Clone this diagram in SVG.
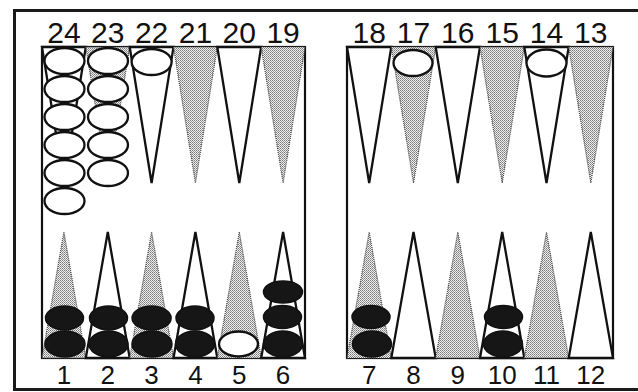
<svg xmlns="http://www.w3.org/2000/svg" width="638" height="392" viewBox="0 0 638 392">
<defs>
<pattern id="dots" width="2" height="2" patternUnits="userSpaceOnUse">
<rect width="2" height="2" fill="#eeeeee"/>
<rect x="0" y="0" width="1" height="1" fill="#7a7a7a"/>
<rect x="1" y="1" width="1" height="1" fill="#9a9a9a"/>
</pattern>
</defs>
<style>
.frame{fill:none;stroke:#1a1a1a;stroke-width:3}
.board{fill:#fff;stroke:#111;stroke-width:2.2}
.w{fill:#fff;stroke:#111;stroke-width:2.3;stroke-linejoin:miter}
.s{fill:url(#dots);stroke:#444;stroke-width:1.2;stroke-dasharray:1 1}
.wc{fill:#fff;stroke:#111;stroke-width:2.3}
.bc{fill:#161616;stroke:#111;stroke-width:1.5}
.lt{font-family:"Liberation Sans",Arial,sans-serif;font-size:30px;fill:#111;text-anchor:middle}
.lb{font-family:"Liberation Sans",Arial,sans-serif;font-size:26px;fill:#111;text-anchor:middle}
</style>
<rect width="638" height="392" fill="#fff"/>
<g id="frame">
<path class="frame" d="M640 10.5 H14.5 V389.5 H640"/>
</g>
<g id="boards">
<rect id="left-board" class="board" x="42" y="47" width="263" height="311"/>
<rect id="right-board" class="board" x="347" y="47" width="266" height="311"/>
</g>
<g id="labels">
<text class="lt" x="63.9" y="43">24</text>
<text class="lt" x="107.8" y="43">23</text>
<text class="lt" x="151.6" y="43">22</text>
<text class="lt" x="195.4" y="43">21</text>
<text class="lt" x="239.3" y="43">20</text>
<text class="lt" x="283.1" y="43">19</text>
<text class="lt" x="369.2" y="43">18</text>
<text class="lt" x="413.5" y="43">17</text>
<text class="lt" x="457.8" y="43">16</text>
<text class="lt" x="502.2" y="43">15</text>
<text class="lt" x="546.5" y="43">14</text>
<text class="lt" x="590.8" y="43">13</text>
<text class="lb" x="63.9" y="384">1</text>
<text class="lb" x="107.8" y="384">2</text>
<text class="lb" x="151.6" y="384">3</text>
<text class="lb" x="195.4" y="384">4</text>
<text class="lb" x="239.3" y="384">5</text>
<text class="lb" x="283.1" y="384">6</text>
<text class="lb" x="369.2" y="384">7</text>
<text class="lb" x="413.5" y="384">8</text>
<text class="lb" x="457.8" y="384">9</text>
<text class="lb" x="502.2" y="384">10</text>
<text class="lb" x="546.5" y="384">11</text>
<text class="lb" x="590.8" y="384">12</text>
</g>
<g id="point-24"><polygon class="w" points="42,47 85.8,47 63.9,183"/>
<ellipse class="wc" cx="64.5" cy="61" rx="20" ry="13"/><ellipse class="wc" cx="64.5" cy="89" rx="20" ry="13"/><ellipse class="wc" cx="64.5" cy="117" rx="20" ry="13"/><ellipse class="wc" cx="64.5" cy="145" rx="20" ry="13"/><ellipse class="wc" cx="64.5" cy="173" rx="20" ry="13"/><ellipse class="wc" cx="64.5" cy="201" rx="20" ry="13"/></g>
<g id="point-23"><polygon class="s" points="85.8,47 129.7,47 107.8,183"/>
<ellipse class="wc" cx="108" cy="61" rx="20" ry="13"/><ellipse class="wc" cx="108" cy="89" rx="20" ry="13"/><ellipse class="wc" cx="108" cy="117" rx="20" ry="13"/><ellipse class="wc" cx="108" cy="145" rx="20" ry="13"/><ellipse class="wc" cx="108" cy="173" rx="20" ry="13"/></g>
<g id="point-22"><polygon class="w" points="129.7,47 173.5,47 151.6,183"/>
<ellipse class="wc" cx="151.6" cy="62" rx="20" ry="13"/></g>
<g id="point-21"><polygon class="s" points="173.5,47 217.3,47 195.4,183"/></g>
<g id="point-20"><polygon class="w" points="217.3,47 261.2,47 239.3,183"/></g>
<g id="point-19"><polygon class="s" points="261.2,47 305,47 283.1,183"/></g>
<g id="point-18"><polygon class="w" points="347,47 391.3,47 369.2,183"/></g>
<g id="point-17"><polygon class="s" points="391.3,47 435.7,47 413.5,183"/>
<ellipse class="wc" cx="413" cy="63" rx="19.5" ry="13"/></g>
<g id="point-16"><polygon class="w" points="435.7,47 480,47 457.8,183"/></g>
<g id="point-15"><polygon class="s" points="480,47 524.3,47 502.2,183"/></g>
<g id="point-14"><polygon class="w" points="524.3,47 568.7,47 546.5,183"/>
<ellipse class="wc" cx="546.5" cy="63" rx="20" ry="13.5"/></g>
<g id="point-13"><polygon class="s" points="568.7,47 613,47 590.8,183"/></g>
<g id="point-1"><polygon class="s" points="42,358 85.8,358 63.9,232"/>
<ellipse class="bc" cx="64.5" cy="318" rx="19" ry="12"/><ellipse class="bc" cx="65" cy="344" rx="20" ry="13"/></g>
<g id="point-2"><polygon class="w" points="85.8,358 129.7,358 107.8,232"/>
<ellipse class="bc" cx="108.5" cy="318" rx="19" ry="12"/><ellipse class="bc" cx="108.5" cy="344" rx="19.5" ry="13"/></g>
<g id="point-3"><polygon class="s" points="129.7,358 173.5,358 151.6,232"/>
<ellipse class="bc" cx="151.6" cy="318" rx="19.5" ry="12"/><ellipse class="bc" cx="152" cy="344" rx="20" ry="13"/></g>
<g id="point-4"><polygon class="w" points="173.5,358 217.3,358 195.4,232"/>
<ellipse class="bc" cx="195" cy="318" rx="19" ry="12"/><ellipse class="bc" cx="195" cy="344" rx="19.5" ry="13"/></g>
<g id="point-5"><polygon class="s" points="217.3,358 261.2,358 239.3,232"/>
<ellipse class="wc" cx="238.5" cy="344" rx="19.5" ry="12.5"/></g>
<g id="point-6"><polygon class="w" points="261.2,358 305,358 283.1,232"/>
<ellipse class="bc" cx="283" cy="292" rx="19.5" ry="11"/><ellipse class="bc" cx="282.5" cy="317" rx="19" ry="11.5"/><ellipse class="bc" cx="283" cy="344" rx="19.5" ry="13"/></g>
<g id="point-7"><polygon class="s" points="347,358 391.3,358 369.2,232"/>
<ellipse class="bc" cx="371" cy="317" rx="19" ry="11.5"/><ellipse class="bc" cx="372" cy="344" rx="19.5" ry="13"/></g>
<g id="point-8"><polygon class="w" points="391.3,358 435.7,358 413.5,232"/></g>
<g id="point-9"><polygon class="s" points="435.7,358 480,358 457.8,232"/></g>
<g id="point-10"><polygon class="w" points="480,358 524.3,358 502.2,232"/>
<ellipse class="bc" cx="503.5" cy="317" rx="19" ry="11.5"/><ellipse class="bc" cx="503" cy="344" rx="19.5" ry="13"/></g>
<g id="point-11"><polygon class="s" points="524.3,358 568.7,358 546.5,232"/></g>
<g id="point-12"><polygon class="w" points="568.7,358 613,358 590.8,232"/></g>
</svg>
